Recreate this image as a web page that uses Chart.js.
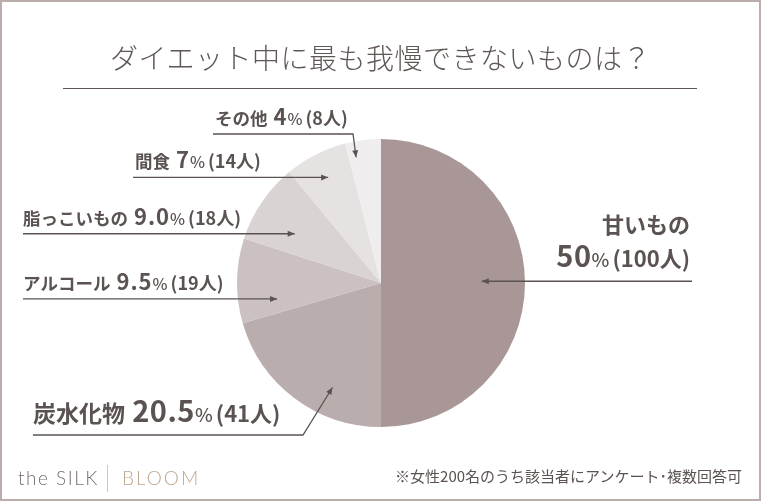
<!DOCTYPE html>
<html lang="ja">
<head>
<meta charset="utf-8">
<script src="https://cdn.jsdelivr.net/npm/chart.js@4"></script>
<style>
  body { margin: 0; background: #fff; }
  #wrap { position: relative; width: 761px; height: 501px; overflow: hidden; font-family: "Noto Sans CJK JP", "Noto Sans", sans-serif; }
  #chartCanvas { position: absolute; left: 0; top: 0; }
  .frame { position: absolute; inset: 0; border: 2px solid #bcadad; pointer-events: none; }
  .title { position: absolute; left: 0; width: 761px; top: 42px; height: 30px; line-height: 30px; text-align: center;
           font-size: 28px; font-weight: 300; color: #5f5755; letter-spacing: 0.5px; }
  .rule { position: absolute; left: 63px; top: 88px; width: 634px; height: 1px; background: #5f5755; }
  .note { position: absolute; right: 19px; top: 466px; height: 20px; line-height: 20px; font-size: 15px; color: #5b5351; }
  .logo { position: absolute; top: 466px; height: 24px; line-height: 24px; font-family: Lato, "Open Sans", sans-serif;
          font-weight: 300; font-size: 19px; letter-spacing: 1.5px; }
  .logo.silk { left: 18px; color: #77706e; }
  .logo.bloom { left: 122px; color: #bca78f; letter-spacing: 2px; }
  .divider { position: absolute; left: 107px; top: 465px; width: 1px; height: 27px; background: #cfc6c4; }
</style>
</head>
<body>
<div id="wrap">
  <canvas id="chartCanvas" width="761" height="501"></canvas>
  <div class="title">ダイエット中に最も我慢できないものは？</div>
  <div class="rule"></div>
  <div class="logo silk">the SILK</div>
  <div class="divider"></div>
  <div class="logo bloom">BLOOM</div>
  <div class="note">※女性200名のうち該当者にアンケート･複数回答可</div>
  <div class="frame"></div>
</div>
<script>
// data
const categories = ['甘いもの', '炭水化物', 'アルコール', '脂っこいもの', '間食', 'その他'];
const percents = [50, 20.5, 9.5, 9.0, 7, 4];
const percentText = ['50', '20.5', '9.5', '9.0', '7', '4'];
const counts = [100, 41, 19, 18, 14, 8];
const sliceColors = ['#a99797', '#baadad', '#cbc1c1', '#dad3d3', '#e6e2e2', '#efedee'];

// callout placement (text, leader line start, arrow tip nudge from the slice middle)
const calloutLayout = [
  { align: 'right', textX: 690, nameY: 233, baseY: 267, lineX: 692, nudge: -1, depth: 0.70, big: true },
  { textX: 33, baseY: 422, lineX: 33, lineY: 435, elbowX: 303, nudge: -12, depth: 0.80, big: true },
  { textX: 23, baseY: 290, lineX: 23, nudge: -9.6, depth: 0.73 },
  { textX: 23, baseY: 225, lineX: 23, nudge: -4.5, depth: 0.69 },
  { textX: 135, baseY: 168, lineX: 133, nudge: 0.4, depth: 0.82 },
  { textX: 215, baseY: 125, lineX: 213, lineY: 134, elbowX: 353, nudge: -4, depth: 0.89 },
];

const INK = '#5b5351';
const FONT = '"Noto Sans CJK JP", "Noto Sans", sans-serif';

function runsFor(i, withName) {
  const big = calloutLayout[i].big;
  const runs = [];
  if (withName) {
    runs.push({ t: categories[i], size: big ? 23 : 17.5, weight: 700 });
    runs.push({ t: ' ', size: big ? 23 : 17.5, weight: 700, pad: 2 });
  }
  runs.push({ t: percentText[i], size: big ? 29 : 22, weight: 700, spacing: big ? 0.5 : 1 });
  runs.push({ t: '%', size: big ? 19 : 16, weight: 500 });
  runs.push({ t: '(' + counts[i] + '人)', size: big ? 22 : 18, weight: 700, pad: 3 });
  return runs;
}

function measureRuns(ctx, runs) {
  let w = 0;
  runs.forEach(r => {
    ctx.font = `${r.weight} ${r.size}px ${FONT}`;
    ctx.letterSpacing = (r.spacing || 0) + 'px';
    w += ctx.measureText(r.t).width + (r.pad || 0);
  });
  ctx.letterSpacing = '0px';
  return w;
}

function drawRuns(ctx, runs, x, y) {
  runs.forEach(r => {
    ctx.font = `${r.weight} ${r.size}px ${FONT}`;
    ctx.letterSpacing = (r.spacing || 0) + 'px';
    x += (r.pad || 0);
    ctx.fillText(r.t, x, y);
    x += ctx.measureText(r.t).width;
  });
  ctx.letterSpacing = '0px';
}

function arrowHead(ctx, from, to) {
  const a = Math.atan2(to.y - from.y, to.x - from.x);
  const len = 7, half = 3;
  ctx.beginPath();
  ctx.moveTo(to.x, to.y);
  ctx.lineTo(to.x - len * Math.cos(a) + half * Math.sin(a), to.y - len * Math.sin(a) - half * Math.cos(a));
  ctx.lineTo(to.x - len * Math.cos(a) - half * Math.sin(a), to.y - len * Math.sin(a) + half * Math.cos(a));
  ctx.closePath();
  ctx.fill();
}

const calloutPlugin = {
  id: 'callouts',
  afterDraw(chart) {
    const ctx = chart.ctx;
    const arcs = chart.getDatasetMeta(0).data;
    ctx.save();
    ctx.fillStyle = INK;
    ctx.strokeStyle = INK;
    ctx.lineWidth = 1.3;
    ctx.textBaseline = 'alphabetic';
    arcs.forEach((arc, i) => {
      const L = calloutLayout[i];
      const p = arc.getProps(['x', 'y', 'startAngle', 'endAngle', 'outerRadius'], true);
      const ang = (p.startAngle + p.endAngle) / 2 + L.nudge * Math.PI / 180;
      const tip = { x: p.x + Math.cos(ang) * p.outerRadius * L.depth, y: p.y + Math.sin(ang) * p.outerRadius * L.depth };

      // text
      ctx.textAlign = 'left';
      if (L.align === 'right') {
        ctx.font = `700 22px ${FONT}`;
        const nw = ctx.measureText(categories[i]).width;
        ctx.fillText(categories[i], L.textX - nw, L.nameY);
        const runs = runsFor(i, false);
        drawRuns(ctx, runs, L.textX - measureRuns(ctx, runs), L.baseY);
      } else {
        drawRuns(ctx, runsFor(i, true), L.textX, L.baseY);
      }

      // leader line
      ctx.beginPath();
      let last;
      if (L.elbowX !== undefined) {
        ctx.moveTo(L.lineX, L.lineY);
        ctx.lineTo(L.elbowX, L.lineY);
        last = { x: L.elbowX, y: L.lineY };
      } else {
        ctx.moveTo(L.lineX, tip.y);
        last = { x: L.lineX, y: tip.y };
      }
      ctx.lineTo(tip.x, tip.y);
      ctx.stroke();
      arrowHead(ctx, last, tip);
    });
    ctx.restore();
  }
};

new Chart(document.getElementById('chartCanvas').getContext('2d'), {
  type: 'pie',
  data: {
    labels: categories,
    datasets: [{
      data: percents,
      backgroundColor: sliceColors,
      borderWidth: 0,
    }]
  },
  options: {
    responsive: false,
    animation: false,
    layout: { padding: { left: 237, right: 236, top: 139, bottom: 74 } },
    plugins: {
      legend: { display: false },
      tooltip: { enabled: false },
    }
  },
  plugins: [calloutPlugin]
});
</script>
</body>
</html>
